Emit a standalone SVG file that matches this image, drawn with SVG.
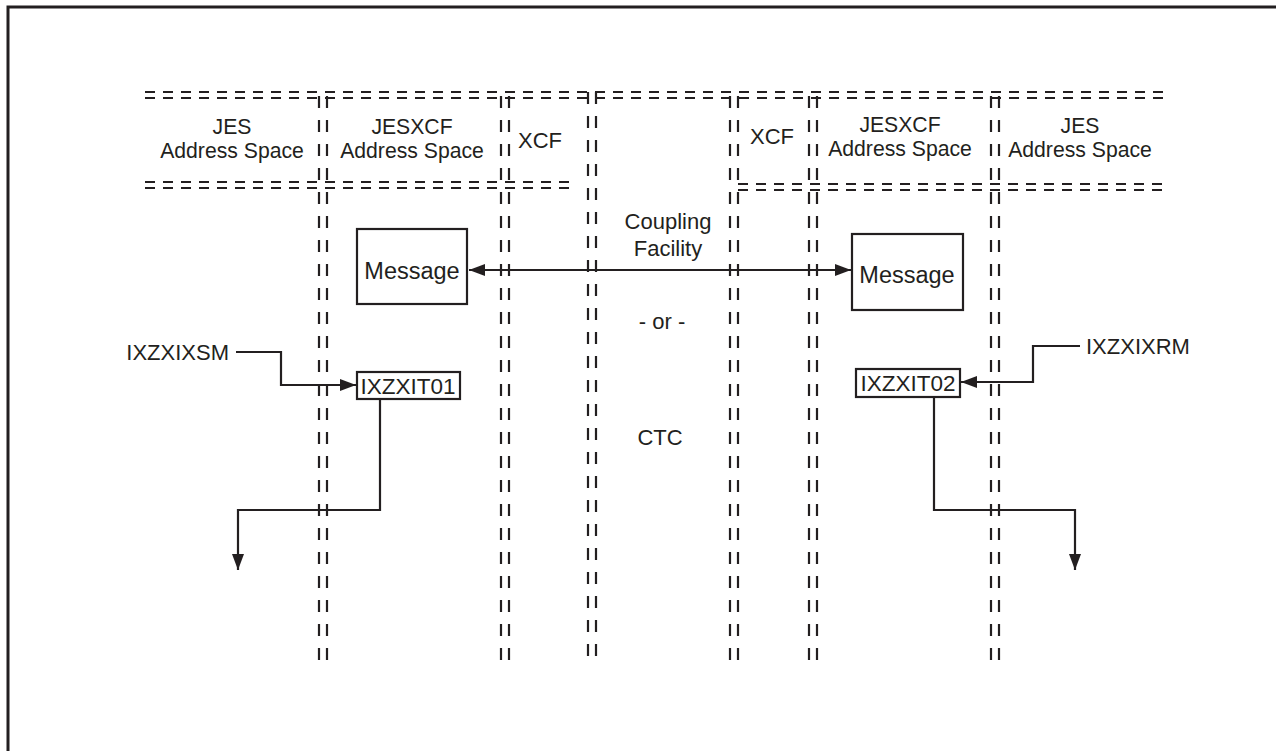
<svg xmlns="http://www.w3.org/2000/svg" width="1276" height="751" viewBox="0 0 1276 751">
<defs>
<marker id="ah" viewBox="0 0 16 12" refX="16" refY="6" markerWidth="16" markerHeight="12" markerUnits="userSpaceOnUse" orient="auto-start-reverse">
<path d="M0 0 L16 6 L0 12 Z" fill="#231f20"/>
</marker>
<style>
.t{font-family:"Liberation Sans",Arial,sans-serif;font-size:22px;fill:#231f20;text-anchor:middle}
.h{font-size:21.2px}
.m{font-size:23.5px}
.b{font-size:22.5px}
.tl{font-family:"Liberation Sans",Arial,sans-serif;font-size:22px;fill:#231f20}
.hd{stroke:#231f20;stroke-width:2.2;stroke-dasharray:10 8;fill:none}
.vd{stroke:#231f20;stroke-width:2.2;stroke-dasharray:12 12;fill:none}
.box{fill:#fff;stroke:#231f20;stroke-width:2.2}
.ln{fill:none;stroke:#231f20;stroke-width:2.2}
</style>
</defs>
<rect width="1276" height="751" fill="#fff"/>
<g id="frame">
<path d="M8 751 V7 H1276" fill="none" stroke="#231f20" stroke-width="3"/>
</g>
<g id="partitions">
<path class="hd" d="M145 92 H1165 M145 98 H1165"/>
<path class="hd" d="M145 182 H575 M145 188 H575"/>
<path class="hd" d="M738 184 H1165 M738 190 H1165"/>
<path class="vd" d="M319 96 V668 M327 96 V668"/>
<path class="vd" d="M501 96 V668 M509 96 V668"/>
<path class="vd" d="M588 92 V668 M596 92 V668"/>
<path class="vd" d="M730 96 V668 M738 96 V668"/>
<path class="vd" d="M809 96 V668 M817 96 V668"/>
<path class="vd" d="M991 96 V668 M999 96 V668"/>
</g>
<g id="labels">
<text class="t h" x="232" y="133.5">JES<tspan x="232" dy="24">Address Space</tspan></text>
<text class="t h" x="412" y="133.5">JESXCF<tspan x="412" dy="24">Address Space</tspan></text>
<text class="t" x="540" y="148">XCF</text>
<text class="t" x="772" y="144">XCF</text>
<text class="t h" x="900" y="132">JESXCF<tspan x="900" dy="24">Address Space</tspan></text>
<text class="t h" x="1080" y="132.5">JES<tspan x="1080" dy="24">Address Space</tspan></text>
<text class="t" x="668" y="229">Coupling<tspan x="668" dy="27">Facility</tspan></text>
<text class="t" x="662" y="329">-  or  -</text>
<text class="t" x="660" y="445">CTC</text>
</g>
<g id="msg1">
<rect class="box" x="357" y="229" width="110" height="75"/>
<text class="t m" x="412" y="279">Message</text>
</g>
<g id="msg2">
<rect class="box" x="852" y="234" width="111" height="76"/>
<text class="t m" x="907" y="283">Message</text>
</g>
<g id="ixzxit01">
<rect class="box" x="357" y="372" width="103" height="27"/>
<text class="t b" x="408" y="394">IXZXIT01</text>
</g>
<g id="ixzxit02">
<rect class="box" x="856" y="369" width="104" height="28"/>
<text class="t b" x="908" y="391">IXZXIT02</text>
</g>
<g id="ixzxixsm">
<text class="tl" x="229" y="360" text-anchor="end">IXZXIXSM</text>
</g>
<g id="ixzxixrm">
<text class="tl" x="1086" y="354">IXZXIXRM</text>
</g>
<g id="connectors">
<path class="ln" d="M469 270 H851" marker-start="url(#ah)" marker-end="url(#ah)"/>
<path class="ln" d="M236 352 H281 V385 H356" marker-end="url(#ah)"/>
<path class="ln" d="M380 399 V510 H238 V570" marker-end="url(#ah)"/>
<path class="ln" d="M1080 346 H1033 V382 H961" marker-end="url(#ah)"/>
<path class="ln" d="M934 397 V510 H1075 V570" marker-end="url(#ah)"/>
</g>
</svg>
